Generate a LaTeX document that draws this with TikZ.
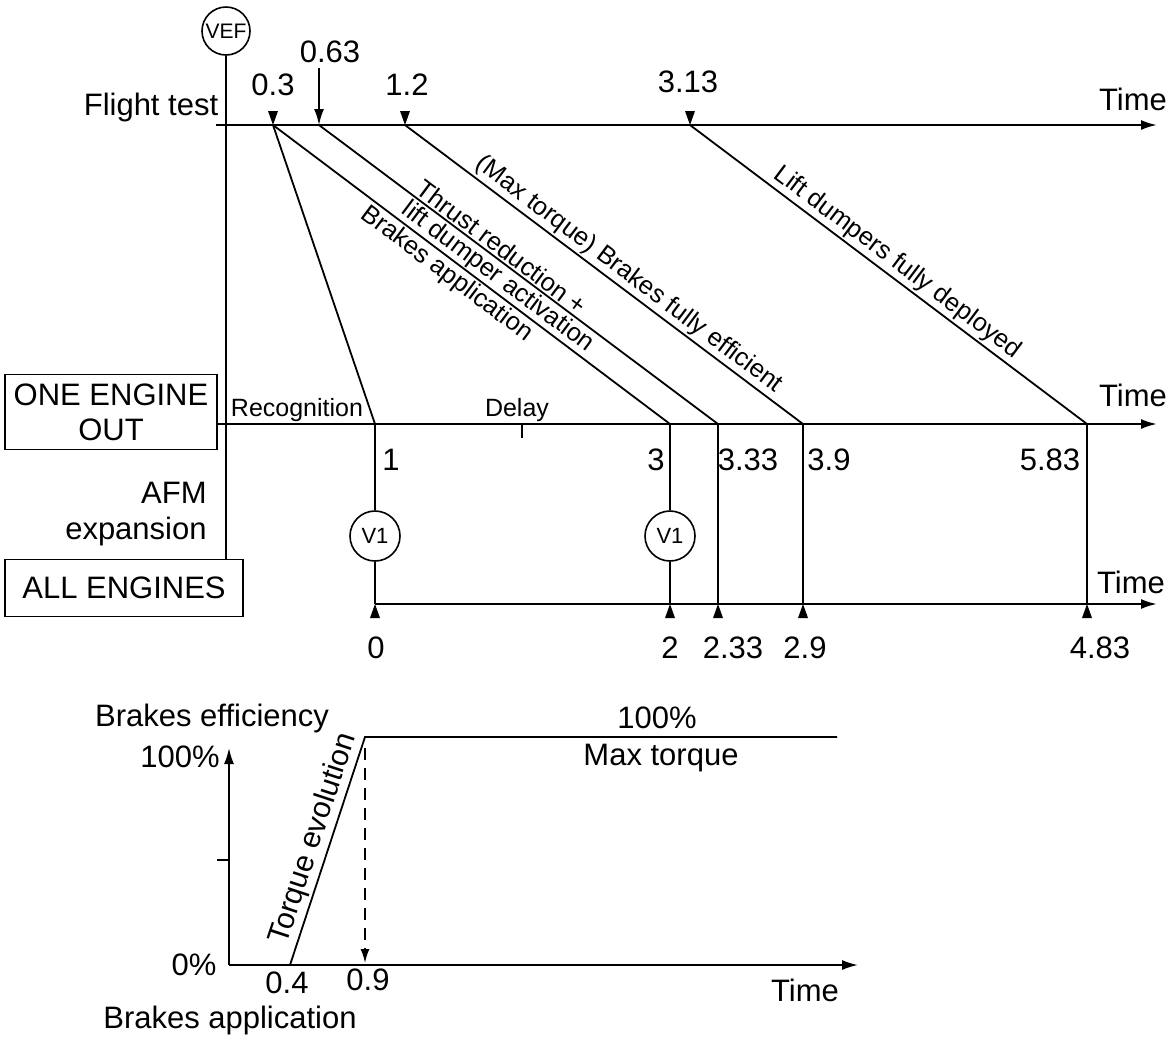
\documentclass[tikz,border=0pt]{standalone}
\usepackage{fontspec}
\setmainfont{Liberation Sans}
\usetikzlibrary{arrows.meta, positioning}

\begin{document}
\begin{tikzpicture}[
    x=0.5pt,
    y=-0.5pt,
    txt/.style={
        font=\fontsize{15.5}{18}\selectfont,
        inner sep=1pt
    },
    slab/.style={
        font=\fontsize{12.7}{14}\selectfont,
        inner sep=1pt,
        sloped
    },
    smalltxt/.style={
        font=\fontsize{12.5}{14}\selectfont,
        inner sep=1pt
    },
    casebox/.style={
        rectangle,
        draw,
        line width=0.9pt,
        align=center,
        font=\fontsize{15.5}{17.5}\selectfont,
        inner sep=1pt
    },
    speed/.style={
        circle,
        draw,
        line width=0.8pt,
        minimum size=25pt,
        inner sep=0pt,
        font=\fontsize{11}{12}\selectfont
    },
    seg/.style={
        line width=0.9pt
    },
    timeaxis/.style={
        -{Latex[length=8pt,width=5pt]},
        line width=1.1pt
    }
]
    \useasboundingbox (0,0) rectangle (1166,1041);

    % time lines
    \coordinate (ft0) at (216,125);
    \coordinate (ft1) at (1157,125);
    \coordinate (oe1) at (1157,424);
    \coordinate (ae0) at (375,604);
    \coordinate (ae1) at (1157,604);

    \coordinate (p03) at (273,125);
    \coordinate (p063) at (319,125);
    \coordinate (p12) at (405,125);
    \coordinate (p313) at (690,125);

    \coordinate (m1) at (375,424);
    \coordinate (m3) at (670,424);
    \coordinate (m333) at (718,424);
    \coordinate (m39) at (803,424);
    \coordinate (m583) at (1087,424);

    \coordinate (b0) at (375,604);
    \coordinate (b2) at (670,604);
    \coordinate (b233) at (718,604);
    \coordinate (b29) at (803,604);
    \coordinate (b483) at (1087,604);

    \node [speed, minimum size=24pt, font=\fontsize{10.5}{12}\selectfont] (vef) at (226,31) {VEF};
    \node [casebox, minimum width=106pt, minimum height=37.5pt] (oeo) at (111,412) {ONE ENGINE\\OUT};
    \node [casebox, minimum width=119pt, minimum height=28.5pt] (alleng) at (124,588) {ALL ENGINES};
    \node [txt, anchor=east, align=right] (afm) at (209,514) {AFM\\expansion};
    \node [speed] (v1a) at (375,536) {V1};
    \node [speed] (v1b) at (670,536) {V1};

    \node [txt] (ftlab) at (151,107) {Flight test};
    \node [txt] (time1) at (1133,99) {Time};
    \node [txt] (time2) at (1133,395) {Time};
    \node [txt] (time3) at (1131,582) {Time};
    \node [smalltxt] (recog) at (297,410) {Recognition};
    \node [smalltxt] (delay) at (517,410) {Delay};

    \draw [seg] (vef.south) -- (vef.south |- alleng.north);
    \draw [timeaxis] (ft0) -- (ft1);
    \draw [timeaxis] (oeo.east |- m1) -- (oe1);
    \draw [timeaxis] (ae0) -- (ae1);
    \draw [seg] (522,424) -- (522,438);

    % markers
    \foreach \p in {p03,p12,p313}
        \fill (\p) -- ++(-5,-14) -- ++(10,0) -- cycle;
    \foreach \p in {b0,b2,b233,b29,b483}
        \fill (\p) -- ++(-5,14) -- ++(10,0) -- cycle;
    \coordinate (a063) at (319,68);
    \draw [seg, -{Latex[length=8pt,width=5pt]}] (a063) -- (p063);

    \node [txt] (t03) at (273,85) {0.3};
    \node [txt] (t063) at (330,52) {0.63};
    \node [txt] (t12) at (407,85) {1.2};
    \node [txt] (t313) at (688,82) {3.13};

    % diagonal events
    \draw [seg] (p03) -- (m1);
    \draw [seg] (p03) -- node[slab, below, pos=0.46]{Brakes application} (m3);
    \draw [seg] (p063) -- node[slab, above, pos=0.44]{Thrust reduction +}
        node[slab, below, pos=0.47]{lift dumper activation} (m333);
    \draw [seg] (p12) -- node[slab, above, pos=0.54]{(Max torque) Brakes fully efficient} (m39);
    \draw [seg] (p313) -- node[slab, above, pos=0.5]{Lift dumpers fully deployed} (m583);

    % verticals
    \draw [seg] (m1) -- (v1a) -- (b0);
    \draw [seg] (m3) -- (v1b) -- (b2);
    \draw [seg] (m333) -- (b233);
    \draw [seg] (m39) -- (b29);
    \draw [seg] (m583) -- (b483);

    \node [txt] (l1) at (391,460) {1};
    \node [txt] (l3) at (656,460) {3};
    \node [txt] (l333) at (748,460) {3.33};
    \node [txt] (l39) at (829,460) {3.9};
    \node [txt] (l583) at (1050,460) {5.83};

    \node [txt] (l0) at (376,648) {0};
    \node [txt] (l2) at (670,648) {2};
    \node [txt] (l233) at (733,648) {2.33};
    \node [txt] (l29) at (805,648) {2.9};
    \node [txt] (l483) at (1100,648) {4.83};

    % brakes efficiency
    \coordinate (org) at (229,965);
    \coordinate (ytop) at (229,748);
    \coordinate (xend) at (858,965);
    \coordinate (r0) at (290,965);
    \coordinate (r1) at (365,737);
    \coordinate (rend) at (837,737);
    \coordinate (d0) at (365,748);
    \coordinate (d1) at (365,963);

    \draw [timeaxis, line width=0.9pt] (org) -- (ytop);
    \draw [timeaxis, line width=0.9pt] (org) -- (xend);
    \draw [seg] (217,860) -- (229,860);
    \draw [seg] (r0) -- node[slab, above, pos=0.53, font=\fontsize{15}{17}\selectfont]{Torque evolution} (r1) -- (rend);
    \draw [seg, dashed, dash pattern=on 6pt off 4pt, -{Latex[length=7pt,width=4.5pt]}] (d0) -- (d1);

    \node [txt] (beff) at (212,718) {Brakes efficiency};
    \node [txt] (p100) at (180,757) {100\%};
    \node [txt] (p0) at (194,965) {0\%};
    \node [txt] (t04) at (287,983) {0.4};
    \node [txt] (t09) at (368,980) {0.9};
    \node [txt] (time4) at (805,990) {Time};
    \node [txt] (bapp) at (230,1020) {Brakes application};
    \node [txt] (max100) at (657,718) {100\%};
    \node [txt] (maxtq) at (661,758) {Max torque};
\end{tikzpicture}
\end{document}
